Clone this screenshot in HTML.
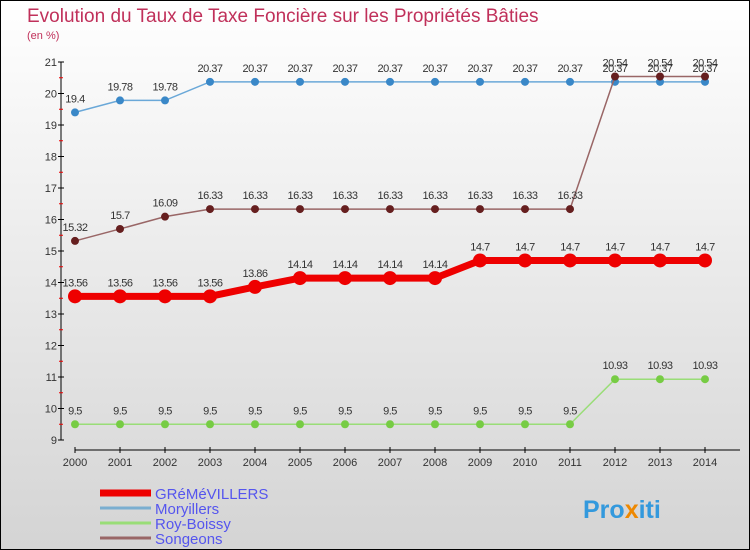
<!DOCTYPE html>
<html><head><meta charset="utf-8"><style>
body{margin:0}
svg{display:block;font-family:"Liberation Sans",sans-serif}
</style></head><body>
<svg id="c" width="750" height="550">
<defs><linearGradient id="bg" x1="0" y1="0" x2="0" y2="1"><stop offset="0" stop-color="#ffffff"/><stop offset="1" stop-color="#d4d4d4"/></linearGradient></defs>
<rect x="0.5" y="0.5" width="749" height="549" fill="url(#bg)" stroke="#000"/>
<text x="27" y="22" font-size="19" fill="#c0305a">Evolution du Taux de Taxe Foncière sur les Propriétés Bâties</text>
<text x="27" y="39" font-size="11" fill="#c0305a">(en %)</text>
<g id="axes"></g><g id="series"></g>
<g>
<line x1="100" y1="493" x2="151" y2="493" stroke="#ee0000" stroke-width="7"/>
<text x="155" y="499" font-size="15" fill="#5555ee">GRéMéVILLERS</text>
<line x1="100" y1="508" x2="151" y2="508" stroke="#7aaed0" stroke-width="3"/>
<text x="155" y="514" font-size="15" fill="#5555ee">Moryillers</text>
<line x1="100" y1="523" x2="151" y2="523" stroke="#99dd77" stroke-width="3"/>
<text x="155" y="529" font-size="15" fill="#5555ee">Roy-Boissy</text>
<line x1="100" y1="538" x2="151" y2="538" stroke="#996666" stroke-width="3"/>
<text x="155" y="544" font-size="15" fill="#5555ee">Songeons</text>
</g>
<text x="583" y="518" font-size="25" font-weight="bold" fill="#3399dd">Pro<tspan fill="#ee8800">x</tspan>iti</text>
</svg>
<script>
const years=[2000,2001,2002,2003,2004,2005,2006,2007,2008,2009,2010,2011,2012,2013,2014];
const yTicks=[9,10,11,12,13,14,15,16,17,18,19,20,21];
const grem=[13.56,13.56,13.56,13.56,13.86,14.14,14.14,14.14,14.14,14.7,14.7,14.7,14.7,14.7,14.7];
const mory=[19.4,19.78,19.78,20.37,20.37,20.37,20.37,20.37,20.37,20.37,20.37,20.37,20.37,20.37,20.37];
const roy=[9.5,9.5,9.5,9.5,9.5,9.5,9.5,9.5,9.5,9.5,9.5,9.5,10.93,10.93,10.93];
const song=[15.32,15.7,16.09,16.33,16.33,16.33,16.33,16.33,16.33,16.33,16.33,16.33,20.54,20.54,20.54];
const NS='http://www.w3.org/2000/svg';
const X=i=>75+i*45, Y=v=>440-(v-9)*(378/12);
function mk(t,a,p){const e=document.createElementNS(NS,t);for(const k in a)e.setAttribute(k,a[k]);p.appendChild(e);return e;}
const ax=document.getElementById('axes'), sg=document.getElementById('series');
let l=mk('line',{x1:61,y1:Y(21),x2:61,y2:Y(9),stroke:'#000'},ax);


yTicks.forEach(v=>{mk('line',{x1:58,x2:64,y1:Y(v),y2:Y(v),stroke:'#000'},ax);
 if(v<21)mk('line',{x1:59,x2:63,y1:Y(v+0.5),y2:Y(v+0.5),stroke:'#e00'},ax);
 const t=mk('text',{x:57,y:Y(v)+4,'text-anchor':'end','font-size':11,fill:'#333'},ax);t.textContent=v;
 
 });
l=mk('line',{x1:X(0),y1:450,x2:740,y2:450,stroke:'#000'},ax);


years.forEach((y,i)=>{mk('line',{x1:X(i),x2:X(i),y1:447,y2:453,stroke:'#000'},ax);
 const t=mk('text',{x:X(i),y:466,'text-anchor':'middle','font-size':11,fill:'#333'},ax);t.textContent=y;
 
 });
function series(d,name,col,dot,w,r){const g=mk('g',{},sg);
 
 
 mk('polyline',{points:d.map((v,i)=>X(i)+','+Y(v)).join(' '),fill:'none',stroke:col,'stroke-width':w},g);
 d.forEach((v,i)=>{const c=mk('circle',{cx:X(i),cy:Y(v),r:r,fill:dot},g);
  
  
  const t=mk('text',{x:X(i),y:Y(v)-10,'text-anchor':'middle','font-size':11,fill:'#333','letter-spacing':'-0.5'},g);t.textContent=v;
  
  });}
series(mory,'moryillers','#6aa8d8','#3a88c8',1.5,4);
series(roy,'roy-boissy','#99dd77','#77cc44',1.5,4);
series(song,'songeons','#996666','#661f1f',1.5,4);
series(grem,'gremevillers','#ee0000','#ee0000',7,7);
</script>
</body></html>
